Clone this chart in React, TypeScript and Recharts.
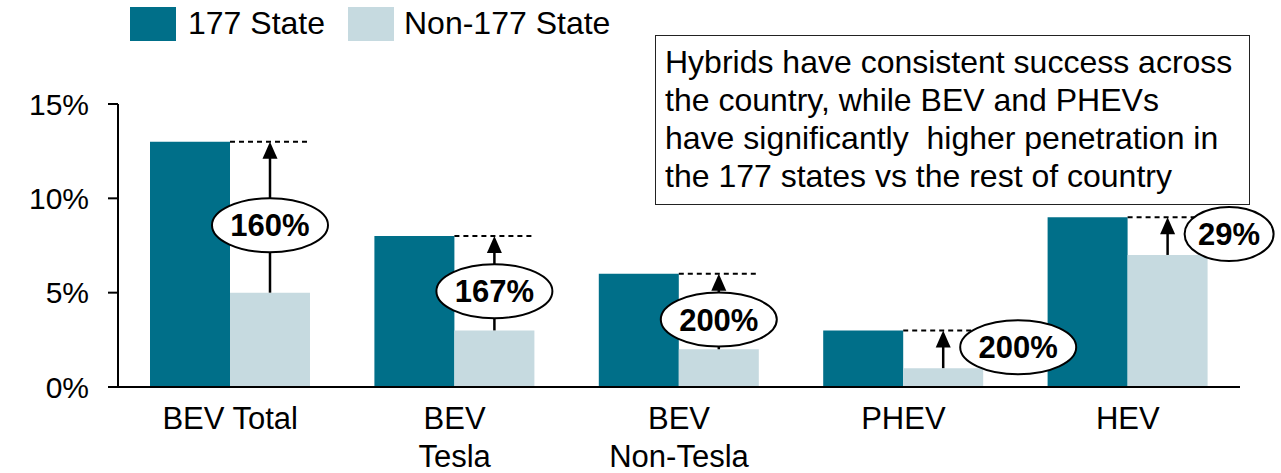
import { BarChart, Bar, XAxis, YAxis, LabelList } from 'recharts';

const categories = ['BEV Total', 'BEV\nTesla', 'BEV\nNon-Tesla', 'PHEV', 'HEV'];
const state177 = [13, 8, 6, 3, 9];
const nonState177 = [5, 3, 2, 1, 7];
const yTicks = [0, 5, 10, 15];

const DARK = '#006F89';
const LIGHT = '#C6DAE0';
const FONT = '"Liberation Sans", Arial, sans-serif';

const data = categories.map((name, i) => ({
  name,
  s177: state177[i],
  non177: nonState177[i],
}));

function CategoryTick(props: any) {
  const { x, y, payload } = props;
  const lines = String(payload.value).split('\n');
  return (
    <text x={x} y={y} textAnchor="middle" fontSize={31} fontFamily={FONT} fill="#000">
      {lines.map((line, i) => (
        <tspan key={i} x={x} dy={i === 0 ? 40 : 38}>
          {line}
        </tspan>
      ))}
    </text>
  );
}

// arrow + dashed line + ellipse drawn on top of each light bar
function Annotation(props: any) {
  const { x, y, width, height, index } = props;
  const dark = state177[index];
  const light = nonState177[index];
  const base = y + height;
  const topY = base - (height * dark) / light;
  const ax = x + width / 2;
  const pct = Math.round(((dark - light) / light) * 100) + '%';
  const rx = pct.length * 13.5 + 4;
  const ry = 27;
  const arrowLen = y - topY;
  const side = arrowLen < 60;
  const cx = side ? ax + rx + 17 : ax;
  const cy = side ? (y + topY) / 2 - 2 : (y + topY) / 2 + 8;
  return (
    <g>
      <line x1={x} x2={x + width} y1={topY} y2={topY} stroke="#000" strokeWidth={2} strokeDasharray="5 4" />
      <line x1={ax} x2={ax} y1={y} y2={topY + 14} stroke="#000" strokeWidth={2.5} />
      <polygon points={`${ax - 7.5},${topY + 17} ${ax + 7.5},${topY + 17} ${ax},${topY}`} fill="#000" />
      <ellipse cx={cx} cy={cy} rx={rx} ry={ry} fill="#fff" stroke="#000" strokeWidth={2} />
      <text x={cx} y={cy + 11} textAnchor="middle" fontSize={31} fontWeight="bold" fontFamily={FONT} fill="#000">
        {pct}
      </text>
    </g>
  );
}

export default function App() {
  return (
    <div style={{ position: 'absolute', left: 0, top: 0, width: 1281, height: 473, fontFamily: FONT, background: '#fff' }}>
      <BarChart
        width={1281}
        height={473}
        data={data}
        margin={{ top: 104, right: 41, bottom: 0, left: 0 }}
        barCategoryGap={32}
        barGap={0}
      >
        <XAxis
          dataKey="name"
          height={86}
          tickLine={false}
          tickSize={0}
          axisLine={{ stroke: '#000', strokeWidth: 2 }}
          tick={<CategoryTick />}
          interval={0}
        />
        <YAxis
          width={118}
          domain={[0, 15]}
          ticks={yTicks}
          tickFormatter={(v: number) => `${v}%`}
          tickSize={10}
          tickMargin={19}
          axisLine={{ stroke: '#000', strokeWidth: 2 }}
          tickLine={{ stroke: '#000', strokeWidth: 2 }}
          tick={{ fontSize: 30, fill: '#000', fontFamily: FONT }}
        />
        <Bar dataKey="s177" fill={DARK} isAnimationActive={false} />
        <Bar dataKey="non177" fill={LIGHT} isAnimationActive={false}>
          <LabelList dataKey="non177" content={<Annotation />} />
        </Bar>
      </BarChart>

      {/* Legend */}
      <div style={{ position: 'absolute', left: 130, top: 5, display: 'flex', alignItems: 'center', fontSize: 32, color: '#000' }}>
        <div style={{ width: 46, height: 34, background: DARK }} />
        <span style={{ marginLeft: 12 }}>177 State</span>
        <div style={{ width: 46, height: 34, background: LIGHT, marginLeft: 23 }} />
        <span style={{ marginLeft: 10 }}>Non-177 State</span>
      </div>

      {/* Callout box */}
      <div
        style={{
          position: 'absolute',
          left: 655,
          top: 35,
          width: 595,
          height: 170,
          boxSizing: 'border-box',
          border: '1.5px solid #222',
          background: '#fff',
          padding: '7px 0 0 9px',
          fontSize: 32,
          lineHeight: '38px',
          color: '#000',
          whiteSpace: 'pre',
        }}
      >
        {'Hybrids have consistent success across\nthe country, while BEV and PHEVs\nhave significantly  higher penetration in\nthe 177 states vs the rest of country'}
      </div>
    </div>
  );
}
